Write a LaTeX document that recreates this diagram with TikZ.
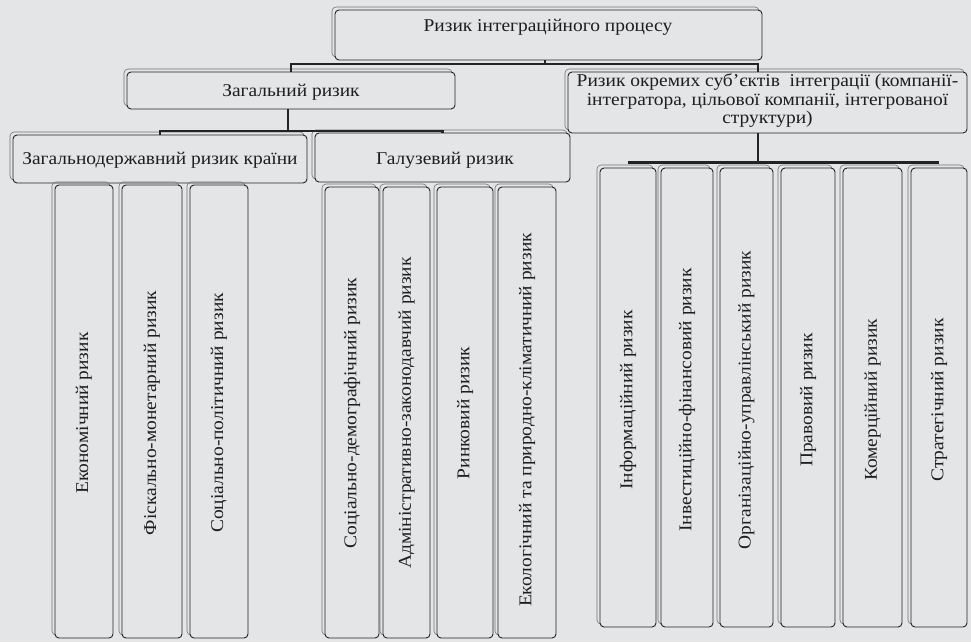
\documentclass[tikz,border=0pt]{standalone}
\usepackage{fontspec}
\setmainfont[FakeStretch=1.08]{Liberation Serif}
\usetikzlibrary{shadows}
\definecolor{bgc}{RGB}{227,229,231}
\definecolor{linec}{RGB}{35,35,35}
\definecolor{txtc}{RGB}{30,30,30}
\definecolor{shc}{RGB}{115,115,115}
\tikzset{
  rbox/.style={draw=linec, line width=0.9pt, rounded corners=4pt, fill=bgc, inner sep=0pt,
    general shadow={draw=shc, line width=0.6pt, fill=none, shadow xshift=-3pt, shadow yshift=3pt}},
  lbl/.style={text=txtc, font=\fontsize{18}{18.5}\selectfont, inner sep=0pt},
  vlbl/.style={lbl, rotate=90},
  bar/.style={draw=linec, line width=2.2pt},
  conn/.style={draw=linec, line width=1.4pt}
}
\begin{document}
\begin{tikzpicture}[x=1pt,y=-1pt]
\fill[bgc] (0,0) rectangle (971,642);
\useasboundingbox (0,0) rectangle (971,642);

% level 0
\node[rbox, minimum width=427pt, minimum height=50pt] (top) at (548.5,35) {};
\node[lbl] (topt) at (548,27) {Ризик інтеграційного процесу};

% level 1
\node[rbox, minimum width=328pt, minimum height=37pt] (zag) at (291,90.5) {};
\node[lbl] (zagt) at (291,92) {Загальний ризик};
\node[rbox, minimum width=399pt, minimum height=61pt] (okr) at (767.5,102.5) {};
\node[lbl, align=center] (okrt) at (767.5,100.5) {Ризик окремих суб\char39 єктів \ інтеграції (компанії-\\інтегратора, цільової компанії, інтегрованої\\структури)};
\coordinate (okrn) at (758,72);
\coordinate (okrs) at (758,133);

% level 2
\node[rbox, minimum width=294pt, minimum height=48pt] (zd) at (160,159) {};
\node[lbl] (zdt) at (160,160) {Загальнодержавний ризик країни};
\node[rbox, minimum width=255pt, minimum height=49pt] (gal) at (442.5,157.5) {};
\node[lbl] (galt) at (445,160) {Галузевий ризик};

% connectors
\coordinate (b1) at (545,64);
\coordinate (b2) at (288,131);
\coordinate (b3) at (758,163);
\draw[conn] (b1 |- top.south) -- (b1);
\draw[bar] (zag.north) |- (b1) -| (okrn);
\draw[conn] (b2 |- zag.south) -- (b2);
\draw[bar] (zd.north) |- (b2) -| (gal.north);
\draw[conn] (okrs) -- (b3);

% children of Загальнодержавний
\node[rbox, minimum width=58pt, minimum height=453pt] (a1) at (84,411.5) {};
\node[vlbl] (a1t) at (84,413) {Економічний ризик};
\node[rbox, minimum width=60pt, minimum height=453pt] (a2) at (152,411.5) {};
\node[vlbl] (a2t) at (152,413) {Фіскально-монетарний ризик};
\node[rbox, minimum width=58pt, minimum height=453pt] (a3) at (219,411.5) {};
\node[vlbl] (a3t) at (219,413) {Соціально-політичний ризик};

% children of Галузевий
\node[rbox, minimum width=54pt, minimum height=451pt] (g1) at (352,412.5) {};
\node[vlbl] (g1t) at (352,413) {Соціально-демографічний ризик};
\node[rbox, minimum width=47pt, minimum height=451pt] (g2) at (406.5,412.5) {};
\node[vlbl] (g2t) at (406.5,413) {Адміністративно-законодавчий ризик};
\node[rbox, minimum width=56pt, minimum height=451pt] (g3) at (465,412.5) {};
\node[vlbl] (g3t) at (465,413) {Ринковий ризик};
\node[rbox, minimum width=58pt, minimum height=451pt] (g4) at (527,412.5) {};
\node[vlbl] (g4t) at (527,420) {Екологічний та природно-кліматичний ризик};

% children of окремих суб'єктів
\node[rbox, minimum width=56pt, minimum height=459pt] (r1) at (628,397.5) {};
\node[vlbl] (r1t) at (628,400) {Інформаційний ризик};
\node[rbox, minimum width=52pt, minimum height=459pt] (r2) at (687,397.5) {};
\node[vlbl] (r2t) at (687,400) {Інвестиційно-фінансовий ризик};
\node[rbox, minimum width=53pt, minimum height=459pt] (r3) at (746.5,397.5) {};
\node[vlbl] (r3t) at (746.5,400) {Організаційно-управлінський ризик};
\node[rbox, minimum width=54pt, minimum height=459pt] (r4) at (808,397.5) {};
\node[vlbl] (r4t) at (808,400) {Правовий ризик};
\node[rbox, minimum width=59pt, minimum height=459pt] (r5) at (872.5,397.5) {};
\node[vlbl] (r5t) at (872.5,400) {Комерційний ризик};
\node[rbox, minimum width=56pt, minimum height=459pt] (r6) at (939,397.5) {};
\node[vlbl] (r6t) at (939,400) {Стратегічний ризик};

\draw[bar] (r1.north) ++(0,-5) coordinate (r1n) -- (r1n -| b3) -- (r1n -| r6.north);
\end{tikzpicture}
\end{document}
